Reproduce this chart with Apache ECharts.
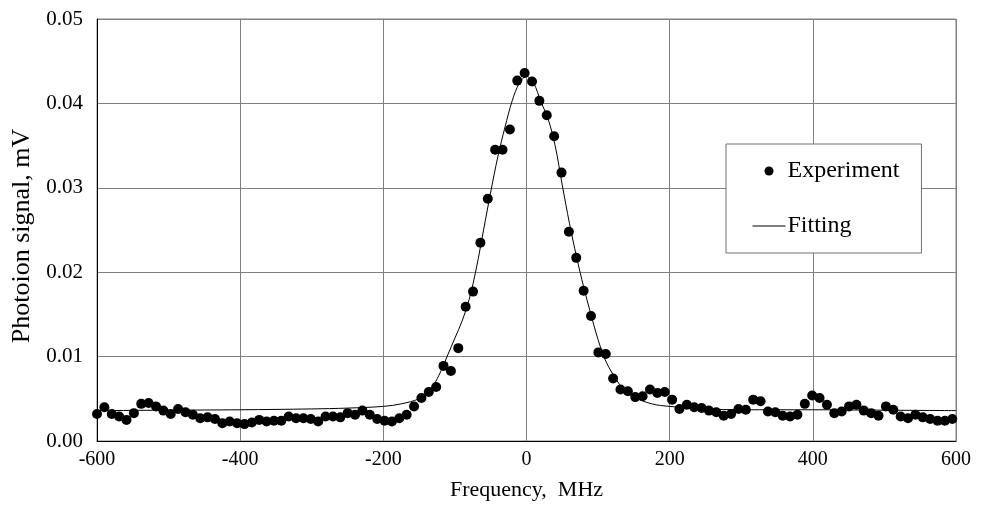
<!DOCTYPE html>
<html>
<head>
<meta charset="utf-8">
<script src="https://cdn.jsdelivr.net/npm/echarts@6/dist/echarts.min.js"></script>
<style>
  html, body { margin: 0; padding: 0; background: #fff; }
  #chart { width: 986px; height: 512px; }
</style>
</head>
<body>
<div id="chart"></div>
<script>
// Measured photoion signal: frequency detuning (MHz) and signal (mV)
const expFreq = [
  -600, -589.7, -579.4, -569.1, -558.8, -548.5, -538.2, -527.9, -517.6, -507.3,
  -497, -486.7, -476.4, -466.1, -455.8, -445.5, -435.2, -424.9, -414.6, -404.3,
  -394, -383.7, -373.4, -363.1, -352.8, -342.5, -332.2, -321.9, -311.6, -301.3,
  -291, -280.7, -270.4, -260.1, -249.8, -239.5, -229.2, -218.9, -208.6, -198.3,
  -188, -177.7, -167.4, -157.1, -146.8, -136.5, -126.2, -115.9, -105.6, -95.3,
  -85, -74.7, -64.4, -54.1, -43.8, -33.5, -23.2, -12.9, -2.6, 7.7,
  18, 28.3, 38.6, 48.9, 59.2, 69.5, 79.8, 90.1, 100.4, 110.7,
  121, 131.3, 141.6, 151.9, 162.2, 172.5, 182.8, 193.1, 203.4, 213.7,
  224, 234.3, 244.6, 254.9, 265.2, 275.5, 285.8, 296.1, 306.4, 316.7,
  327, 337.3, 347.6, 357.9, 368.2, 378.5, 388.8, 399.1, 409.4, 419.7,
  430, 440.3, 450.6, 460.9, 471.2, 481.5, 491.8, 502.1, 512.4, 522.7,
  533, 543.3, 553.6, 563.9, 574.2, 584.5, 594.8
];
const expSignal = [
  0.0032, 0.0040, 0.0032, 0.0029, 0.0025, 0.0033, 0.0044, 0.0045, 0.0041, 0.0036,
  0.0032, 0.0038, 0.0034, 0.0031, 0.0027, 0.0028, 0.0026, 0.0021, 0.0023, 0.0021,
  0.0020, 0.0022, 0.0025, 0.0023, 0.0024, 0.0024, 0.0029, 0.0027, 0.0027, 0.0026,
  0.0023, 0.0029, 0.0029, 0.0028, 0.0033, 0.0031, 0.0036, 0.0031, 0.0026, 0.0024,
  0.0023, 0.0027, 0.0031, 0.0041, 0.0051, 0.0058, 0.0064, 0.0089, 0.0083, 0.0110,
  0.0159, 0.0177, 0.0235, 0.0287, 0.0345, 0.0345, 0.0369, 0.0427, 0.0436, 0.0426,
  0.0403, 0.0386, 0.0361, 0.0318, 0.0248, 0.0217, 0.0178, 0.0148, 0.0105, 0.0103,
  0.0074, 0.0061, 0.0059, 0.0052, 0.0053, 0.0061, 0.0057, 0.0058, 0.0049, 0.0038,
  0.0043, 0.0040, 0.0039, 0.0036, 0.0034, 0.0030, 0.0032, 0.0038, 0.0037, 0.0049,
  0.0047, 0.0035, 0.0034, 0.0030, 0.0029, 0.0031, 0.0044, 0.0054, 0.0051, 0.0043,
  0.0033, 0.0035, 0.0041, 0.0043, 0.0036, 0.0033, 0.0030, 0.0041, 0.0037, 0.0029,
  0.0027, 0.0031, 0.0028, 0.0026, 0.0024, 0.0024, 0.0026
];

// Fitted line profile
const fitFreq = [
  -600, -500, -400, -300, -250, -200, -175, -150, -140, -130,
  -120, -110, -100, -90, -80, -70, -60, -50, -40, -30,
  -20, -10, 0, 10, 20, 30, 40, 50, 60, 70,
  80, 90, 100, 110, 120, 130, 140, 150, 175, 200,
  250, 300, 400, 500, 600
];
const fitSignal = [
  0.0036, 0.00365, 0.0037, 0.0038, 0.0039, 0.0041, 0.0044, 0.0050, 0.0056, 0.0066,
  0.0082, 0.0102, 0.0122, 0.0142, 0.0168, 0.0205, 0.0250, 0.0295, 0.0337, 0.0372,
  0.0403, 0.0424, 0.0432, 0.0424, 0.0402, 0.0382, 0.0350, 0.0303, 0.0258, 0.0218,
  0.0182, 0.0150, 0.0120, 0.0096, 0.0080, 0.0067, 0.0058, 0.0052, 0.0044, 0.0041,
  0.0038, 0.0037, 0.0037, 0.00365, 0.0036
];

// Axis ticks
const xTicks = [-600, -400, -200, 0, 200, 400, 600];
const yTicks = [0.00, 0.01, 0.02, 0.03, 0.04, 0.05];

const FONT = '"Liberation Serif", "Times New Roman", serif';

const chart = echarts.init(document.getElementById('chart'), null, { renderer: 'canvas' });

chart.setOption({
  backgroundColor: '#ffffff',
  animation: false,
  grid: {
    left: 97, right: 30, top: 19, bottom: 71,
    show: true, borderColor: '#808080', borderWidth: 1
  },
  xAxis: {
    type: 'value',
    min: xTicks[0], max: xTicks[xTicks.length - 1], interval: 200,
    name: 'Frequency,  MHz',
    nameLocation: 'middle', nameGap: 38,
    nameTextStyle: { fontFamily: FONT, fontSize: 22, color: '#000' },
    axisLine: { show: true, onZero: false, lineStyle: { color: '#000', width: 1 } },
    axisTick: { show: false },
    axisLabel: { fontFamily: FONT, fontSize: 20, color: '#000', margin: 9 },
    splitLine: { show: true, lineStyle: { color: '#808080', width: 1 } }
  },
  yAxis: {
    type: 'value',
    min: yTicks[0], max: yTicks[yTicks.length - 1], interval: 0.01,
    name: 'Photoion signal, mV',
    nameLocation: 'middle', nameGap: 58,
    nameTextStyle: {
      fontFamily: FONT, fontSize: 26, color: '#000',
      padding: [0, 12, 0, 0]
    },
    axisLine: { show: true, onZero: false, lineStyle: { color: '#000', width: 1 } },
    axisTick: { show: false },
    axisLabel: {
      fontFamily: FONT, fontSize: 21, color: '#000', margin: 14,
      formatter: v => v.toFixed(2)
    },
    splitLine: { show: true, lineStyle: { color: '#808080', width: 1 } }
  },
  legend: {
    orient: 'vertical',
    left: 726, top: 144,
    padding: [15, 22, 15, 26],
    itemGap: 31,
    itemWidth: 33, itemHeight: 9,
    backgroundColor: '#fff',
    borderColor: '#707070', borderWidth: 1,
    textStyle: { fontFamily: FONT, fontSize: 24, color: '#000', padding: [0, 0, 0, -3] },
    data: [
      { name: 'Experiment', icon: 'circle', itemStyle: { color: '#000', opacity: 1 } },
      {
        name: 'Fitting',
        itemStyle: { opacity: 0 },
        lineStyle: { color: '#000', width: 1, opacity: 1 }
      }
    ]
  },
  series: [
    {
      name: 'Fitting',
      type: 'line',
      data: fitFreq.map((f, i) => [f, fitSignal[i]]),
      smooth: 0.35,
      showSymbol: false,
      symbol: 'none',
      lineStyle: { color: '#000', width: 1 },
      itemStyle: { color: '#000' },
      z: 2
    },
    {
      name: 'Experiment',
      type: 'scatter',
      data: expFreq.map((f, i) => [f, expSignal[i]]),
      symbol: 'circle',
      symbolSize: 10,
      itemStyle: { color: '#000', opacity: 1 },
      z: 3
    }
  ]
});
</script>
</body>
</html>
